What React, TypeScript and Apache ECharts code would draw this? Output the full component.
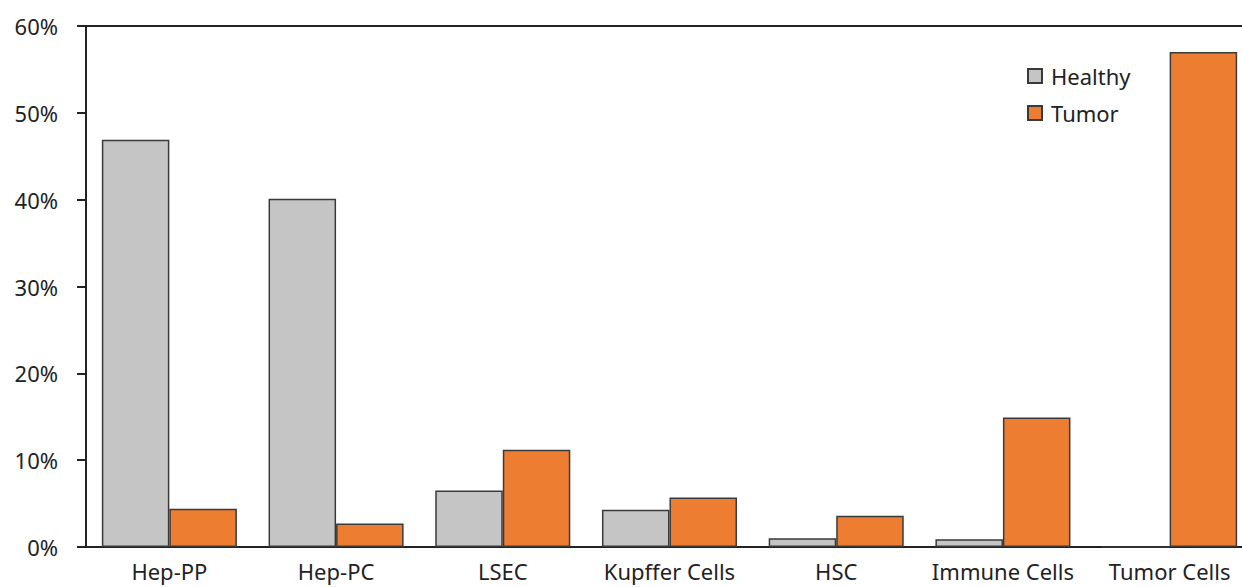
import React, { useEffect, useRef } from "react";
import * as echarts from "echarts";

const categories = ["Hep-PP", "Hep-PC", "LSEC", "Kupffer Cells", "HSC", "Immune Cells", "Tumor Cells"];
const healthy = [46.9, 40.1, 6.5, 4.3, 1.0, 0.9, 0];
const tumor = [4.4, 2.7, 11.2, 5.7, 3.6, 14.9, 57.0];
const yTicks = [0, 10, 20, 30, 40, 50, 60];

export default function App() {
  const ref = useRef<HTMLDivElement>(null);
  useEffect(() => {
    document.body.style.margin = "0";
    const chart = echarts.init(ref.current!, undefined, { renderer: "svg" });
    const font = "'Noto Sans', sans-serif";
    chart.setOption({
      animation: false,
      backgroundColor: "#ffffff",
      grid: { left: 86, right: 0, top: 26, bottom: 40, containLabel: false },
      legend: {
        orient: "vertical",
        left: 1022,
        top: 60,
        itemWidth: 14,
        itemHeight: 14,
        itemGap: 15,
        icon: "rect",
        textStyle: { fontFamily: font, fontSize: 22, color: "#222", padding: [0, 0, 0, 4] },
        data: ["Healthy", "Tumor"],
      },
      xAxis: [
        {
          type: "category",
          data: categories,
          axisLine: { show: true, lineStyle: { color: "#222", width: 2 } },
          axisTick: { show: false },
          axisLabel: { fontFamily: font, fontSize: 22, color: "#222", margin: 13, interval: 0 },
        },
        {
          type: "category",
          position: "top",
          data: categories,
          axisLine: { show: true, lineStyle: { color: "#222", width: 2 } },
          axisTick: { show: false },
          axisLabel: { show: false },
        },
      ],
      yAxis: {
        type: "value",
        min: 0,
        max: 60,
        interval: 10,
        axisLine: { show: true, lineStyle: { color: "#222", width: 2 } },
        axisTick: { show: true, length: 9, lineStyle: { color: "#222", width: 2 } },
        splitLine: { show: false },
        axisLabel: {
          fontFamily: font,
          fontSize: 22,
          color: "#222",
          margin: 28,
          formatter: (v: number) => (yTicks.includes(v) ? v + "%" : ""),
        },
      },
      series: [
        {
          name: "Healthy",
          type: "bar",
          data: healthy,
          barGap: "0%",
          barCategoryGap: "19%",
          itemStyle: { color: "#C5C5C5", borderColor: "#3a3a3a", borderWidth: 1.5 },
        },
        {
          name: "Tumor",
          type: "bar",
          data: tumor,
          barGap: "0%",
          barCategoryGap: "19%",
          itemStyle: { color: "#ED7D31", borderColor: "#3a3a3a", borderWidth: 1.5 },
        },
      ],
    });
    return () => chart.dispose();
  }, []);
  return (
    <div style={{ position: "fixed", left: 0, top: 0, width: 1242, height: 587, overflow: "hidden" }}>
      <div ref={ref} style={{ width: 1253, height: 587 }} />
    </div>
  );
}
